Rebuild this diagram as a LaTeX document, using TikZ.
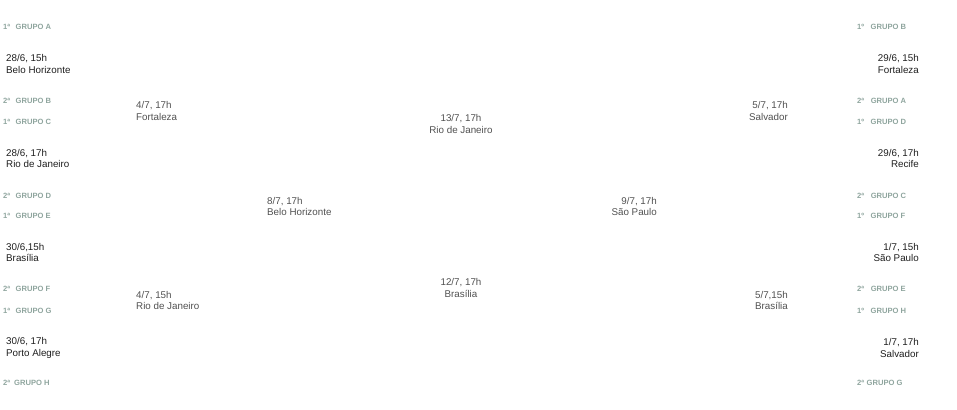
\documentclass[tikz,border=0pt]{standalone}
\usepackage{fontspec}
\setmainfont{Liberation Sans}
\definecolor{grupo}{HTML}{8FA59E}
\definecolor{jogo}{HTML}{1E1E1E}
\definecolor{fase}{HTML}{505050}
\begin{document}
\begin{tikzpicture}[
  x=1pt,
  y=-1pt,
  grupo/.style={text=grupo,font=\bfseries\fontsize{7.6}{8.6}\selectfont,inner sep=0pt},
  jogo/.style={text=jogo,font=\fontsize{9.8}{11.6}\selectfont,inner sep=0pt},
  fase/.style={text=fase,font=\fontsize{9.8}{11.8}\selectfont,inner sep=0pt}
]
  \useasboundingbox (0,0) rectangle (957,409);

  % grupos, esquerda
  \foreach \y/\o/\g/\s in {27/1ª/A/5.5,101/2ª/B/5.5,122/1ª/C/5.5,196/2ª/D/5.5,216/1ª/E/5.5,289/2ª/F/5.5,311/1ª/G/5.5,383/2ª/H/4} {
    \node[grupo,anchor=west] (gl\g) at (3,\y) {\o\hspace{\s pt}GRUPO \g};
  }
  % grupos, direita
  \foreach \y/\o/\g/\s in {27/1º/B/6.5,101/2ª/A/6.5,122/1º/D/6.5,196/2ª/C/6.5,216/1º/F/6.5,289/2ª/E/6.5,311/1º/H/6.5,383/2ª/G/2.5} {
    \node[grupo,anchor=west] (gr\g) at (857,\y) {\o\hspace{\s pt}GRUPO \g};
  }

  % oitavas
  \node[jogo,anchor=west,align=left] (of1) at (6,64) {28/6, 15h\\Belo Horizonte};
  \node[jogo,anchor=west,align=left] (of2) at (6,158.5) {28/6, 17h\\Rio de Janeiro};
  \node[jogo,anchor=west,align=left] (of3) at (6,252.5) {30/6,15h\\Brasília};
  \node[jogo,anchor=west,align=left] (of4) at (6,348) {30/6, 17h\\Porto Alegre};
  \node[jogo,anchor=east,align=right] (of5) at (919,64) {29/6, 15h\\Fortaleza};
  \node[jogo,anchor=east,align=right] (of6) at (919,158.5) {29/6, 17h\\Recife};
  \node[jogo,anchor=east,align=right] (of7) at (919,252.5) {1/7, 15h\\São Paulo};
  \node[jogo,anchor=east,align=right] (of8) at (919,348) {1/7, 17h\\Salvador};

  % quartas
  \node[fase,anchor=west,align=left] (qf1) at (136,111) {4/7, 17h\\Fortaleza};
  \node[fase,anchor=west,align=left] (qf2) at (136,300.5) {4/7, 15h\\Rio de Janeiro};
  \node[fase,anchor=east,align=right] (qf3) at (788,111) {5/7, 17h\\Salvador};
  \node[fase,anchor=east,align=right] (qf4) at (788,300.5) {5/7,15h\\Brasília};

  % semifinais
  \node[fase,anchor=west,align=left] (sf1) at (267,206.5) {8/7, 17h\\Belo Horizonte};
  \node[fase,anchor=east,align=right] (sf2) at (657,206.5) {9/7, 17h\\São Paulo};

  % final e terceiro lugar
  \node[fase,align=center] (fin) at (461,124) {13/7, 17h\\Rio de Janeiro};
  \node[fase,align=center] (ter) at (461,288) {12/7, 17h\\Brasília};
\end{tikzpicture}
\end{document}
